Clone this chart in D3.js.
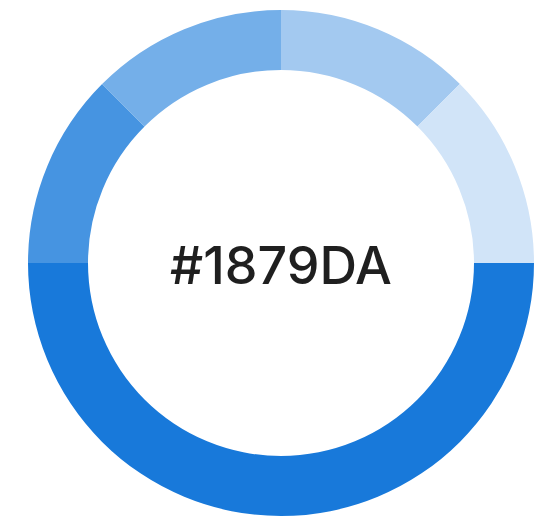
<!DOCTYPE html>
<html>
<head>
<meta charset="utf-8">
<script src="https://cdn.jsdelivr.net/npm/d3@7"></script>
<style>
  html, body { margin: 0; padding: 0; background: #fff; }
  svg { display: block; }
</style>
</head>
<body>
<svg id="chart" width="543" height="518"></svg>
<script>
// slices, clockwise from 12 o'clock
const shades = ["40%", "20%", "100%", "80%", "60%"];
const values = [1, 1, 4, 1, 1];
const opacities = [0.4, 0.2, 1.0, 0.8, 0.6];
const baseColor = "#1879DA";

const width = 543, height = 518;
const cx = 281, cy = 263;
const outerR = 253, innerR = 193;

const svg = d3.select("#chart");
const g = svg.append("g").attr("transform", `translate(${cx},${cy})`);

// tint of the base colour over white
const tint = (a) => d3.interpolateRgb("#ffffff", baseColor)(a);

const pie = d3.pie().sort(null).value(d => d.value);
const arc = d3.arc().innerRadius(innerR).outerRadius(outerR);

const data = shades.map((s, i) => ({ shade: s, value: values[i], alpha: opacities[i] }));

g.selectAll("path.slice")
    .data(pie(data))
    .enter()
    .append("path")
    .attr("class", "slice")
    .attr("d", arc)
    .attr("fill", d => tint(d.data.alpha));

g.append("text")
    .attr("x", 0)
    .attr("y", 2)
    .attr("text-anchor", "middle")
    .attr("dominant-baseline", "central")
    .attr("font-family", "Inter, 'Noto Sans', sans-serif")
    .attr("font-size", "52px")
    .attr("font-weight", 500)
    .attr("fill", "#1f1f1f")
    .text(baseColor);
</script>
</body>
</html>
